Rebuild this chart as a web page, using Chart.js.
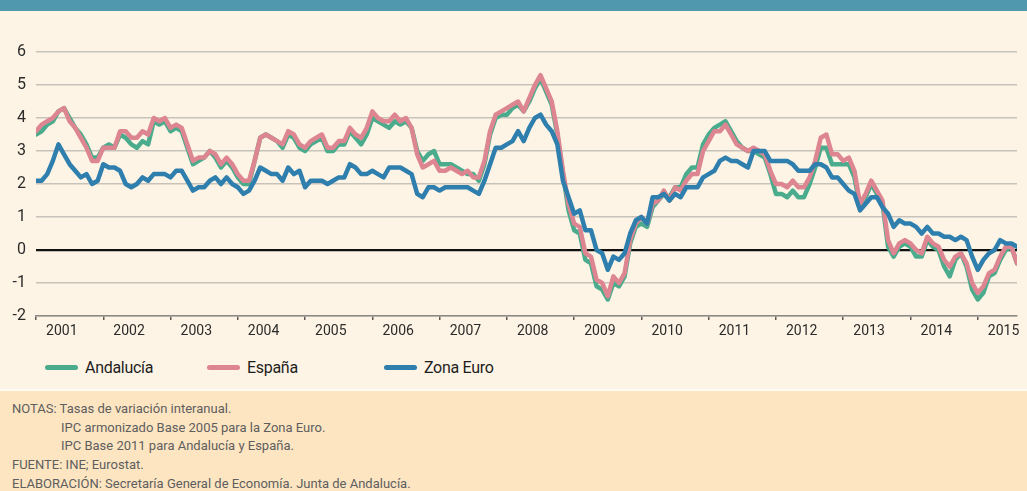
<!DOCTYPE html>
<html lang="es">
<head>
<meta charset="utf-8">
<title>IPC Andalucía, España y Zona Euro</title>
<script src="https://cdn.jsdelivr.net/npm/chart.js@4.4.1/dist/chart.umd.min.js"></script>
<style>
    html, body { margin: 0; padding: 0; }
    body {
        width: 1027px;
        height: 491px;
        background: #fdf4e5;
        position: relative;
        overflow: hidden;
        font-family: 'Roboto', 'Liberation Sans', sans-serif;
    }
    .barra { height: 11px; background: #4f98ae; }
    .grafico { position: relative; width: 1027px; height: 340px; }
    #leyenda { position: absolute; top: 356px; left: 0; width: 1027px; height: 22px; }
    .item { position: absolute; top: 0; height: 22px; display: flex; align-items: center; }
    .item:nth-child(1) { left: 45px; }
    .item:nth-child(2) { left: 207px; }
    .item:nth-child(3) { left: 384px; }
    .item i { display: block; width: 33px; height: 5px; border-radius: 3px; margin-right: 7px; }
    .item span { font-size: 16px; letter-spacing: -0.3px; color: #1e1e1e; }
    .sep { position: absolute; top: 389px; left: 0; width: 1027px; height: 2px; background: #fffaf2; }
    .notas {
        position: absolute; top: 391px; left: 0; right: 0; bottom: 0;
        background: #fde5c2;
        padding: 9px 12px 0 12px;
        font-size: 13px; line-height: 18.7px; color: #5e5e5e;
    }
    .notas .sangria { padding-left: 49px; }
</style>
</head>
<body>
<div class="barra"></div>
<div class="grafico"><canvas id="ipcChart"></canvas></div>
<div id="leyenda"></div>
<div class="sep"></div>
<div class="notas">
    <div>NOTAS: Tasas de variación interanual.</div>
    <div class="sangria">IPC armonizado Base 2005 para la Zona Euro.</div>
    <div class="sangria">IPC Base 2011 para Andalucía y España.</div>
    <div>FUENTE: INE; Eurostat.</div>
    <div>ELABORACIÓN: Secretaría General de Economía. Junta de Andalucía.</div>
</div>

<script>
// años del eje (datos mensuales desde enero 2001 hasta agosto 2015)
const years = ['2001', '2002', '2003', '2004', '2005', '2006', '2007', '2008',
    '2009', '2010', '2011', '2012', '2013', '2014', '2015'];

const andalucia = [
    3.5, 3.6, 3.8, 3.9, 4.2, 4.3, 4.0, 3.7, 3.5, 3.2, 2.8, 2.8,
    3.1, 3.2, 3.1, 3.5, 3.4, 3.2, 3.1, 3.3, 3.2, 3.9, 3.8, 3.9,
    3.6, 3.7, 3.6, 3.1, 2.6, 2.7, 2.8, 3.0, 2.8, 2.5, 2.7, 2.5,
    2.2, 2.0, 2.0, 2.7, 3.4, 3.5, 3.4, 3.3, 3.1, 3.5, 3.4, 3.1,
    3.0, 3.2, 3.3, 3.4, 3.0, 3.0, 3.2, 3.2, 3.6, 3.4, 3.2, 3.5,
    4.0, 3.9, 3.8, 3.7, 3.9, 3.8, 3.9, 3.7, 3.0, 2.7, 2.9, 3.0,
    2.6, 2.6, 2.6, 2.5, 2.4, 2.3, 2.3, 2.1, 2.6, 3.5, 4.0, 4.1,
    4.1, 4.3, 4.4, 4.2, 4.5, 4.9, 5.2, 4.8, 4.4, 3.5, 2.3, 1.2,
    0.6, 0.5, -0.3, -0.4, -1.1, -1.2, -1.5, -1.0, -1.1, -0.8, 0.2, 0.7,
    0.8, 0.7, 1.3, 1.5, 1.7, 1.6, 1.9, 1.9, 2.3, 2.5, 2.5, 3.2,
    3.5, 3.7, 3.8, 3.9, 3.6, 3.3, 3.1, 3.0, 3.0, 2.9, 2.8, 2.3,
    1.7, 1.7, 1.6, 1.8, 1.6, 1.6, 2.0, 2.5, 3.1, 3.1, 2.6, 2.6,
    2.6, 2.6, 2.2, 1.3, 1.6, 2.0, 1.7, 1.4, 0.1, -0.2, 0.1, 0.2,
    0.1, -0.2, -0.2, 0.3, 0.1, 0.0, -0.5, -0.8, -0.3, -0.1, -0.5, -1.2,
    -1.5, -1.3, -0.8, -0.7, -0.3, 0.0, 0.1, -0.4
];

const espana = [
    3.6, 3.8, 3.9, 4.0, 4.2, 4.3, 3.9, 3.7, 3.4, 3.1, 2.7, 2.7,
    3.1, 3.1, 3.1, 3.6, 3.6, 3.4, 3.4, 3.6, 3.5, 4.0, 3.9, 4.0,
    3.7, 3.8, 3.7, 3.2, 2.7, 2.8, 2.8, 3.0, 2.9, 2.6, 2.8, 2.6,
    2.3, 2.1, 2.1, 2.7, 3.4, 3.5, 3.4, 3.3, 3.2, 3.6, 3.5, 3.2,
    3.1, 3.3, 3.4, 3.5, 3.1, 3.1, 3.3, 3.3, 3.7, 3.5, 3.4, 3.7,
    4.2, 4.0, 3.9, 3.9, 4.1, 3.9, 4.0, 3.7, 2.9, 2.5, 2.6, 2.7,
    2.4, 2.4, 2.5, 2.4, 2.3, 2.4, 2.2, 2.2, 2.7, 3.6, 4.1, 4.2,
    4.3, 4.4, 4.5, 4.2, 4.6, 5.0, 5.3, 4.9, 4.5, 3.6, 2.4, 1.4,
    0.8, 0.7, -0.1, -0.2, -0.9, -1.0, -1.4, -0.8, -1.0, -0.7, 0.3, 0.8,
    1.0, 0.8, 1.4, 1.5, 1.8, 1.5, 1.9, 1.8, 2.1, 2.3, 2.3, 3.0,
    3.3, 3.6, 3.6, 3.8, 3.5, 3.2, 3.1, 3.0, 3.1, 3.0, 2.9, 2.4,
    2.0, 2.0, 1.9, 2.1, 1.9, 1.9, 2.2, 2.7, 3.4, 3.5, 2.9, 2.9,
    2.7, 2.8, 2.4, 1.4, 1.7, 2.1, 1.8, 1.5, 0.3, -0.1, 0.2, 0.3,
    0.2, 0.0, -0.1, 0.4, 0.2, 0.1, -0.3, -0.5, -0.2, -0.1, -0.4, -1.0,
    -1.3, -1.1, -0.7, -0.6, -0.2, 0.1, 0.1, -0.4
];

const zonaEuro = [
    2.1, 2.1, 2.3, 2.7, 3.2, 2.9, 2.6, 2.4, 2.2, 2.3, 2.0, 2.1,
    2.6, 2.5, 2.5, 2.4, 2.0, 1.9, 2.0, 2.2, 2.1, 2.3, 2.3, 2.3,
    2.2, 2.4, 2.4, 2.1, 1.8, 1.9, 1.9, 2.1, 2.2, 2.0, 2.2, 2.0,
    1.9, 1.7, 1.8, 2.1, 2.5, 2.4, 2.3, 2.3, 2.1, 2.5, 2.3, 2.4,
    1.9, 2.1, 2.1, 2.1, 2.0, 2.1, 2.2, 2.2, 2.6, 2.5, 2.3, 2.3,
    2.4, 2.3, 2.2, 2.5, 2.5, 2.5, 2.4, 2.3, 1.7, 1.6, 1.9, 1.9,
    1.8, 1.9, 1.9, 1.9, 1.9, 1.9, 1.8, 1.7, 2.1, 2.6, 3.1, 3.1,
    3.2, 3.3, 3.6, 3.3, 3.7, 4.0, 4.1, 3.8, 3.6, 3.2, 2.1, 1.6,
    1.1, 1.2, 0.6, 0.6, 0.0, -0.1, -0.6, -0.2, -0.3, -0.1, 0.5, 0.9,
    1.0, 0.8, 1.6, 1.6, 1.7, 1.5, 1.7, 1.6, 1.9, 1.9, 1.9, 2.2,
    2.3, 2.4, 2.7, 2.8, 2.7, 2.7, 2.6, 2.5, 3.0, 3.0, 3.0, 2.7,
    2.7, 2.7, 2.7, 2.6, 2.4, 2.4, 2.4, 2.6, 2.6, 2.5, 2.2, 2.2,
    2.0, 1.8, 1.7, 1.2, 1.4, 1.6, 1.6, 1.3, 1.1, 0.7, 0.9, 0.8,
    0.8, 0.7, 0.5, 0.7, 0.5, 0.5, 0.4, 0.4, 0.3, 0.4, 0.3, -0.2,
    -0.6, -0.3, -0.1, 0.0, 0.3, 0.2, 0.2, 0.1
];

const yTicks = [-2, -1, 0, 1, 2, 3, 4, 5, 6];

const COLOR_AND = '#4aab8d';
const COLOR_ESP = '#dd8590';
const COLOR_EUR = '#2e7fad';
const LABEL_SHIFT = 4.6;   // etiqueta del año algo a la izquierda del centro

function toPoints(values) {
    return values.map((v, i) => ({ x: i, y: v }));
}

function buildXTicks() {
    const ticks = [];
    years.forEach((y, i) => {
        ticks.push({ value: i * 12, kind: 'mark' });
        ticks.push({ value: i * 12 + LABEL_SHIFT, kind: 'label', text: y });
    });
    return ticks;
}
const xTicks = buildXTicks();

const chart = new Chart(document.getElementById('ipcChart'), {
    type: 'line',
    data: {
        datasets: [
            { label: 'Andalucía', data: toPoints(andalucia), borderColor: COLOR_AND, order: 3 },
            { label: 'España', data: toPoints(espana), borderColor: COLOR_ESP, order: 2 },
            { label: 'Zona Euro', data: toPoints(zonaEuro), borderColor: COLOR_EUR, order: 1 }
        ]
    },
    options: {
        responsive: true,
        maintainAspectRatio: false,
        animation: false,
        layout: { padding: { top: 41, right: 10, bottom: 7, left: 0 } },
        elements: {
            line: { borderWidth: 4.5, tension: 0, borderJoinStyle: 'round', borderCapStyle: 'round', fill: false },
            point: { radius: 0, hoverRadius: 0 }
        },
        plugins: {
            legend: { display: false },
            tooltip: { enabled: false }
        },
        scales: {
            x: {
                type: 'linear',
                min: 0,
                max: andalucia.length - 1,
                afterBuildTicks: scale => {
                    scale.ticks = xTicks.map(t => ({ value: t.value }));
                },
                afterFit: scale => { scale.height = 28; },
                border: { display: true, color: '#8d8984', width: 1.5 },
                grid: {
                    drawOnChartArea: false,
                    drawTicks: true,
                    tickLength: 4,
                    lineWidth: 1.5,
                    color: ctx => (ctx.index % 2 === 0 ? '#5d5a56' : 'rgba(0,0,0,0)')
                },
                ticks: {
                    autoSkip: false,
                    maxRotation: 0,
                    padding: 3,
                    color: '#2b2b2b',
                    font: { family: "'Roboto', sans-serif", size: 14 },
                    callback: (value, index) => xTicks[index].kind === 'label' ? xTicks[index].text : ''
                }
            },
            y: {
                min: yTicks[0],
                max: yTicks[yTicks.length - 1],
                afterBuildTicks: scale => {
                    scale.ticks = yTicks.map(v => ({ value: v }));
                },
                afterFit: scale => { scale.width = 36; },
                border: { display: false },
                grid: {
                    drawTicks: false,
                    color: ctx => ctx.tick.value === 0 ? '#111111' : '#c7c2ba',
                    lineWidth: ctx => ctx.tick.value === 0 ? 2.2 : 1.4
                },
                ticks: {
                    padding: 10,
                    color: '#2b2b2b',
                    font: { family: "'Roboto', sans-serif", size: 16 }
                }
            }
        }
    }
});

// leyenda en HTML a partir de los datasets
const leyenda = document.getElementById('leyenda');
chart.data.datasets.forEach(ds => {
    const item = document.createElement('div');
    item.className = 'item';
    item.innerHTML = `<i style="background:${ds.borderColor}"></i><span>${ds.label}</span>`;
    leyenda.appendChild(item);
});
</script>
</body>
</html>
